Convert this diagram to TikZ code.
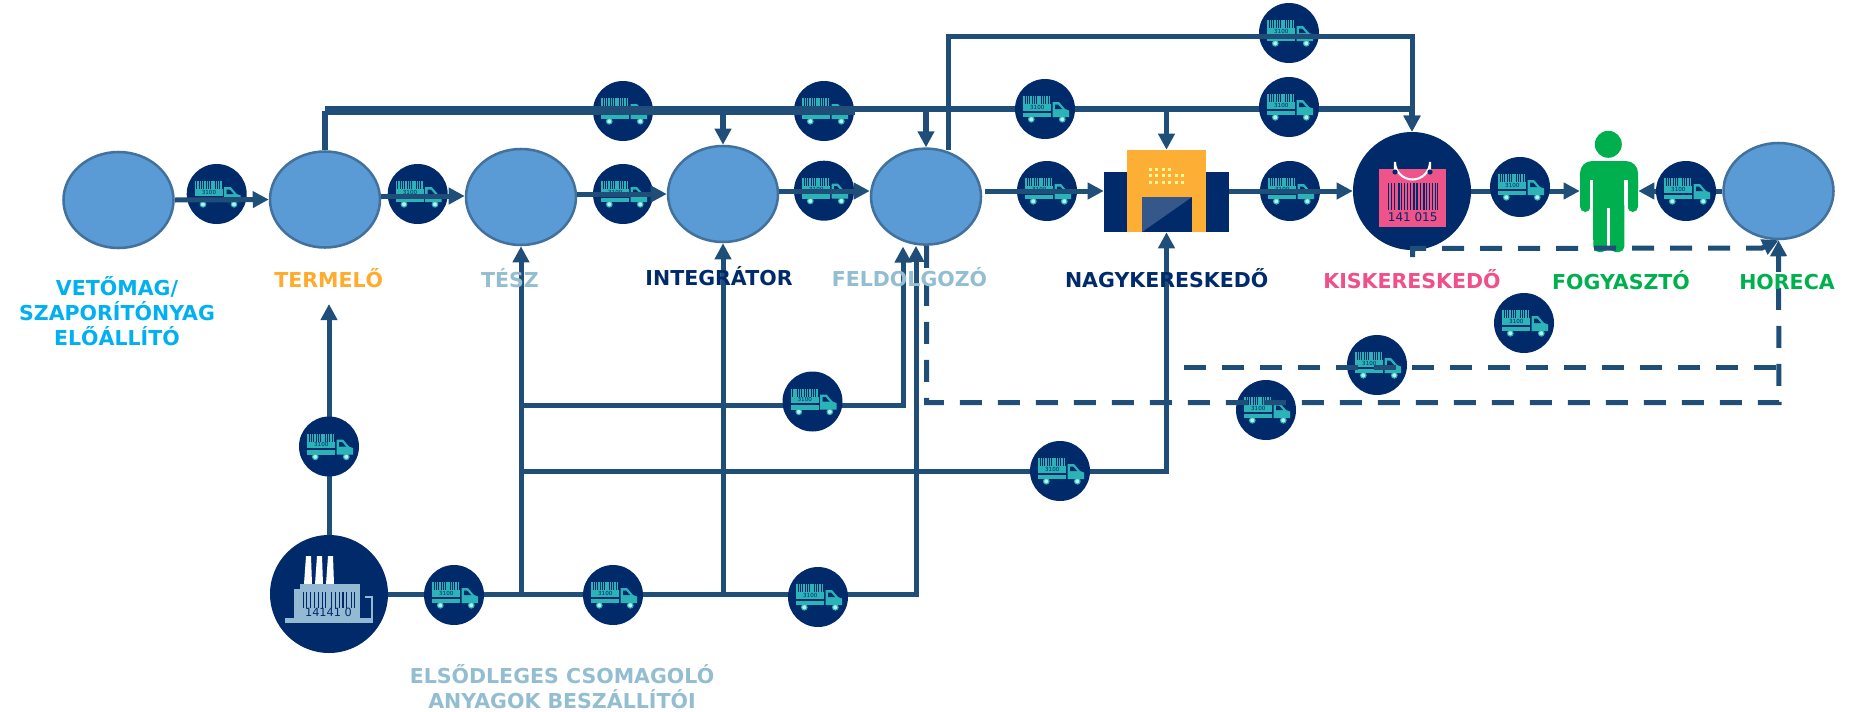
\documentclass[tikz,border=0pt]{standalone}
\usepackage{fontspec}
\setmainfont{DejaVu Sans}
\usetikzlibrary{arrows.meta,shapes.geometric}
\definecolor{lineblue}{HTML}{1F4E79}
\definecolor{navy}{HTML}{012A6B}
\definecolor{teal}{HTML}{2BB3B8}
\definecolor{wheelc}{HTML}{B9F0EC}
\definecolor{ellfill}{HTML}{5B9BD5}
\definecolor{ellline}{HTML}{41719C}
\definecolor{lblcyan}{HTML}{00B0F0}
\definecolor{lblorange}{HTML}{FFAB2E}
\definecolor{lblpale}{HTML}{93BDD1}
\definecolor{lblpink}{HTML}{F0508A}
\definecolor{lblgreen}{HTML}{00B04F}
\definecolor{bagpink}{HTML}{EE5389}
\definecolor{whorange}{HTML}{FCAF34}
\definecolor{doorlight}{HTML}{35578A}
\definecolor{factblue}{HTML}{93BAD2}
\tikzset{
  x=0.75pt,y=-0.75pt,
  stage/.style={ellipse,draw=ellline,fill=ellfill,line width=1.9pt,inner sep=0pt,minimum width=82.5pt,minimum height=72pt},
  truckc/.style={circle,fill=navy,draw=none,inner sep=0pt,minimum size=45pt},
  bigc/.style={circle,fill=navy,draw=none,inner sep=0pt,minimum size=88.5pt},
  ghost/.style={draw=none,inner sep=0pt},
  conn/.style={draw=lineblue,line width=3.75pt},
  arr/.style={conn,-{Triangle[length=12pt,width=12pt]}},
  dashline/.style={conn,dash pattern=on 16.5pt off 12pt},
  lbl/.style={font=\bfseries\fontsize{15.4}{18.75}\selectfont,inner sep=0pt,align=center},
  tinyt/.style={inner sep=0pt,text=navy,font=\fontsize{4.2}{4.2}\selectfont}
}
\newcommand{\trucknode}[3]{%
  \node[truckc] (#1) at (#2,#3) {};
  \begin{scope}[shift={(#2,#3)}]
    \foreach \bx in {-21.7,-19.4,...,5} {\fill[teal] (\bx,-13) rectangle (\bx+1.4,-4);}
    \fill[teal] (-21.7,-5) rectangle (6.3,1.5);
    \node[tinyt] (#1-t) at (-7.7,-1.7) {3100};
    \fill[teal] (-21.7,3.5) rectangle (6.3,8);
    \fill[teal] (7.5,-7) -- (14,-7) -- (20,0) -- (24,1.5) -- (24,8) -- (7.5,8) -- cycle;
    \fill[navy] (10,-4.5) -- (13,-4.5) -- (17,0) -- (10,0) -- cycle;
    \fill[wheelc,draw=teal,line width=0.8pt] (-13.7,10.3) circle (2.8);
    \fill[wheelc,draw=teal,line width=0.8pt] (17.3,10.3) circle (2.8);
  \end{scope}}
\begin{document}
\begin{tikzpicture}
\useasboundingbox (0,0) rectangle (1857,711);
% stages
\node[stage] (e1) at (118.5,200) {};
\node[stage] (e2) at (325,199.5) {};
\node[stage] (e3) at (521,197) {};
\node[stage] (e4) at (723,194) {};
\node[stage] (e5) at (926,196.6) {};
\node[stage] (hor) at (1778.5,191) {};
% warehouse
\node[ghost,minimum width=93.75pt,minimum height=61.5pt] (wh) at (1166.5,191) {};
\fill[navy] (1104,172) rectangle (1229,232);
\fill[whorange] (1127,150) rectangle (1206,232);
\foreach \dy/\xa/\xb in {169/1150/1170, 175.5/1150/1184, 182/1150/1184} {
  \foreach \dx in {\xa,1156.5,...,\xb} {\fill[yellow!40!white] (\dx-1.5,\dy-1.5) rectangle (\dx+1.5,\dy+1.5);}
}
\fill[navy] (1142,197) rectangle (1192,232);
\fill[doorlight] (1142,197) -- (1192,197) -- (1142,232) -- cycle;
% person
\node[ghost,minimum width=43.5pt,minimum height=91.5pt] (per) at (1609,191) {};
\fill[lblgreen] (1608.3,144.3) circle (13.5);
\fill[lblgreen,rounded corners=9pt] (1580,161) rectangle (1638,200);
\fill[lblgreen,rounded corners=4pt] (1580,175) rectangle (1590.5,212);
\fill[lblgreen,rounded corners=4pt] (1627.5,175) rectangle (1638,212);
\fill[white] (1590.3,180) rectangle (1593.3,216);
\fill[white] (1624.3,180) rectangle (1627.5,216);
\fill[lblgreen] (1593.3,170) rectangle (1624.3,240);
\fill[lblgreen,rounded corners=4pt] (1593.3,200) rectangle (1607.3,252);
\fill[lblgreen,rounded corners=4pt] (1610,200) rectangle (1624.3,252);
\fill[lblgreen] (1593.3,200) rectangle (1607.3,240);
\fill[lblgreen] (1610,200) rectangle (1624.3,240);
\fill[white] (1607.3,207.7) rectangle (1610,253);
% retail
\node[bigc] (ret) at (1412,191) {};
\fill[bagpink] (1379.3,169) rectangle (1446,227.3);
\draw[white,line width=1.6pt] (1395,172) -- (1395,162) arc[start angle=180,end angle=0,radius=17.5] -- (1430,172);
\fill[navy] (1395,172) circle (2.6);
\fill[navy] (1430,172) circle (2.6);
\foreach \bx/\bw in {1387.5/1.4,1391/0.9,1394/1.4,1397.5/2,1401/1,1403.5/1.4,1407/0.9,1410/1,1413/1.6,1415.5/2.8,1420/1,1423/1.6,1426/1,1429/1.4,1432/1,1434.5/1.4,1436.8/1.4} {
  \fill[navy] (\bx,182.7) rectangle (\bx+\bw,210);
}
\node[inner sep=0pt,text=navy,font=\fontsize{9}{9}\selectfont,anchor=base] (rettxt) at (1412.7,221.7) {141 015};
% factory
\node[bigc] (fac) at (329,594) {};
\fill[white] (306,556) -- (311,556) -- (312,584) -- (304,584) -- cycle;
\fill[white] (317,556) -- (322,556) -- (323,584) -- (315,584) -- cycle;
\fill[white] (328,556) -- (333,556) -- (334,584) -- (326,584) -- cycle;
\fill[factblue] (300,584) rectangle (360,589);
\fill[factblue] (294,589) rectangle (360,618);
\fill[factblue] (285,618) rectangle (373,623);
\fill[factblue] (365,596) rectangle (373,618);
\fill[navy] (365,598) rectangle (371,618);
\foreach \bx/\bw in {303/1.2,306/1.2,310/1.2,314/1.2,318/1.2,322/1.2,325/1.2,331/1.2,335/1.2,339/1.2,342/2.4,346/1.2,351/1.2,354/1.2} {
  \fill[navy] (\bx,592) rectangle (\bx+\bw,608);
}
\node[inner sep=0pt,text=navy,font=\fontsize{8.5}{8.5}\selectfont,anchor=base] (factxt) at (328.5,616) {14141 0};
% trucks beneath connectors
\trucknode{t1}{216.7}{194}
\trucknode{t2}{417.7}{194}
\trucknode{t3}{623}{194}
\trucknode{t4}{824}{190.7}
\trucknode{t5}{1047}{191}
\trucknode{t6}{1290}{191}
\trucknode{t9}{1289}{33}
\trucknode{t12}{824}{111}
\trucknode{t13}{623}{111}
\trucknode{t20}{1266}{410}
\trucknode{t21}{1377}{365}
% junctions and free ends
\coordinate (topL) at (325,110.5);
\coordinate (thickE) at (855,110.5);
\coordinate (top48) at (948,150);
\coordinate (fup) at (329,304);
\coordinate (lowR) at (916,594);
\coordinate (j3) at (521,594);
\coordinate (j4) at (723,594);
\coordinate (m1) at (521,405);
\coordinate (m2) at (521,471);
\coordinate (d1) at (1184,367);
\coordinate (d2) at (1412.7,257);
% main chain
\draw[arr] (e1.east) -- (e2.west);
\draw[arr] (e2.east |- 0,196) -- (e3.west |- 0,196);
\draw[arr] (e3.east |- 0,194) -- (e4.west |- 0,194);
\draw[arr] (e4.east |- 0,191) -- (e5.west |- 0,191);
\draw[arr] (985,191) -- (wh.west);
\draw[arr] (wh.east) -- (ret.west);
\draw[arr] (ret.east) -- (per.west);
\draw[arr] (hor.west) -- (per.east);
% top routes
\draw[conn,line width=4pt] (e2.north) -- (topL);
\draw[conn,line width=6.75pt] (topL) -- (thickE);
\draw[arr,line width=4.2pt] (topL |- 0,109) -| (e5.north);
\draw[arr,line width=4.2pt] (e4.north |- topL) -- (e4.north);
\draw[arr,line width=4.2pt] (thickE |- 0,109) -| (wh.north);
\draw[arr,line width=4.2pt] (wh.north |- 0,109) -| (ret.north);
\draw[arr] (top48) |- (1412,36.7) -- (ret.north);
% lower routes
\draw[arr] (fac.north) -- (fup);
\draw[arr] (fac.east) -| (lowR |- e5.south);
\draw[arr] (j3) -- (e3.south);
\draw[arr] (j4) -- (e4.south);
\draw[arr] (m1) -| (903,246.5);
\draw[arr] (m2) -| (wh.south);
% dashed
\draw[dashline] (d1) -- (hor.south |- d1);
\draw[dashline,-{Triangle[length=12pt,width=12pt]}] (e5.south -| 926.7,0) |- (1779,402.7) -- (hor.south);
\draw[dashline,-{Triangle[length=12pt,width=12pt]}] (d2) -- (1412.7,248.5) -- (1762,248) -- (hor.south);
% trucks above connectors
\trucknode{t7}{1520}{187}
\trucknode{t8}{1686}{191}
\trucknode{t10}{1289}{107}
\trucknode{t11}{1045}{109}
\trucknode{t14}{329}{446.5}
\trucknode{t15}{454}{595}
\trucknode{t16}{613}{595}
\trucknode{t17}{818}{597}
\trucknode{t18}{812.5}{401.5}
\trucknode{t19}{1060}{471}
\trucknode{t22}{1524}{323}
% labels
\node[lbl,text=lblcyan] (l1) at (117,311) {VETŐMAG/\\SZAPORÍTÓNYAG\\ELŐÁLLÍTÓ};
\node[lbl,text=lblorange,anchor=base] (l2) at (328.7,287) {TERMELŐ};
\node[lbl,text=lblpale,anchor=base] (l3) at (510,287.7) {TÉSZ};
\node[lbl,text=navy,anchor=base] (l4) at (719,285.7) {INTEGRÁTOR};
\node[lbl,text=lblpale,anchor=base] (l5) at (909.5,286) {FELDOLGOZÓ};
\node[lbl,text=navy,anchor=base] (l6) at (1166.7,287.7) {NAGYKERESKEDŐ};
\node[lbl,text=lblpink,anchor=base] (l7) at (1412,288) {KISKERESKEDŐ};
\node[lbl,text=lblgreen,anchor=base] (l8) at (1621,289) {FOGYASZTÓ};
\node[lbl,text=lblgreen,anchor=base] (l9) at (1787,289) {HORECA};
\node[lbl,text=lblpale] (l10) at (562,687) {ELSŐDLEGES CSOMAGOLÓ\\ANYAGOK BESZÁLLÍTÓI};
\end{tikzpicture}
\end{document}
